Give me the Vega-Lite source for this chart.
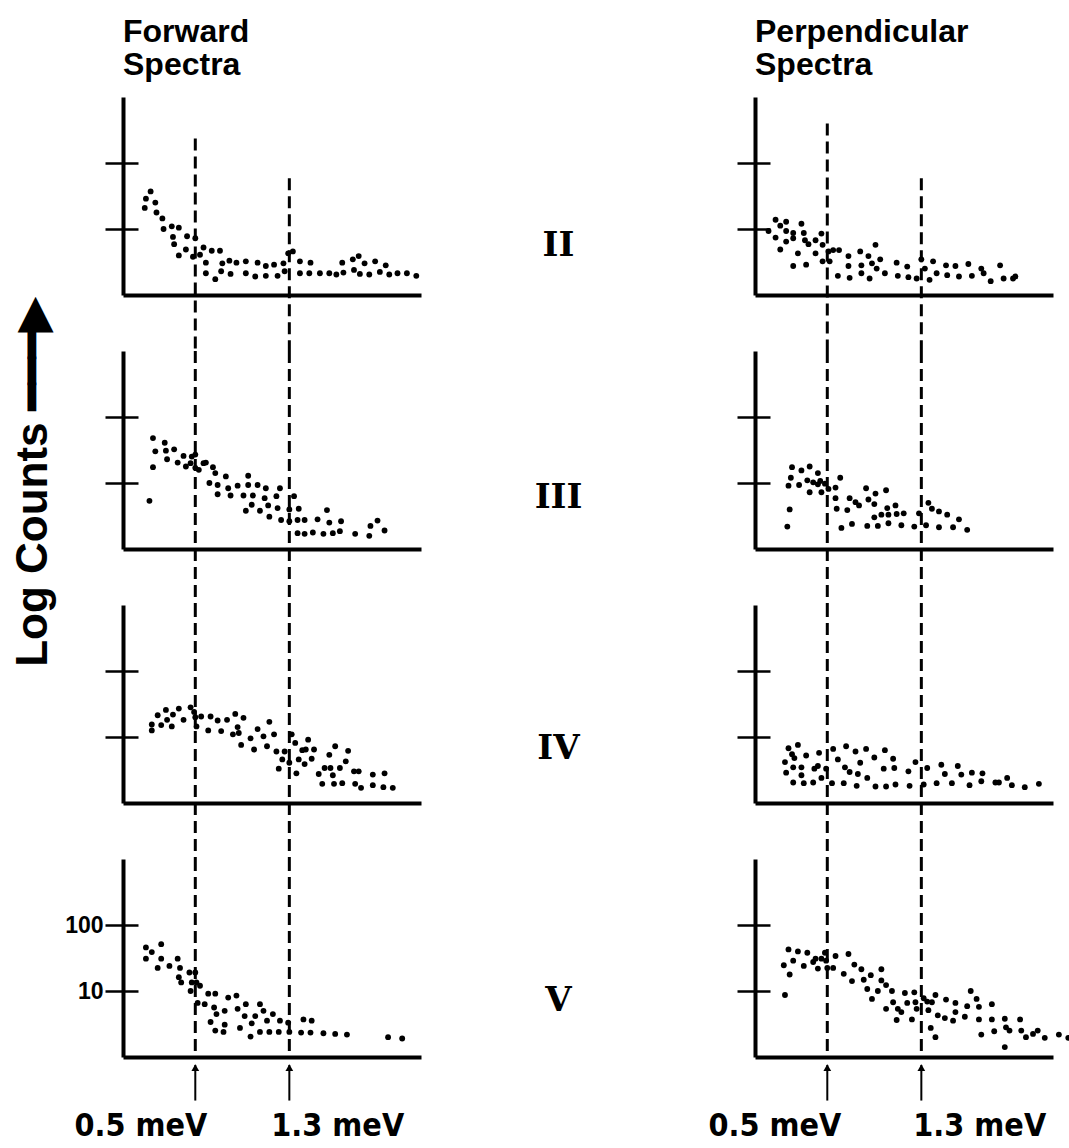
{
"$schema": "https://vega.github.io/schema/vega-lite/v6.json",
"background": "white",
"padding": {"left": 10, "top": 16, "right": 2, "bottom": 4},
"config": {"view": {"stroke": null}, "font": "Liberation Sans",
  "title": {"anchor": "start", "frame": "group", "font": "Liberation Sans", "fontSize": 32, "fontWeight": "bold", "lineHeight": 33, "offset": 15, "color": "black"}},
"datasets": {
"markers": [
{"d":"F","s":"II","E":0.5,"top":2.37},{"d":"F","s":"II","E":1.3,"top":1.77},
{"d":"P","s":"II","E":0.5,"top":2.6},{"d":"P","s":"II","E":1.3,"top":1.77},
{"d":"F","s":"III","E":0.5,"top":3},{"d":"F","s":"III","E":1.3,"top":3},
{"d":"P","s":"III","E":0.5,"top":3},{"d":"P","s":"III","E":1.3,"top":3},
{"d":"F","s":"IV","E":0.5,"top":3},{"d":"F","s":"IV","E":1.3,"top":3},
{"d":"P","s":"IV","E":0.5,"top":3},{"d":"P","s":"IV","E":1.3,"top":3},
{"d":"F","s":"V","E":0.5,"top":3,"label":"0.5 meV"},{"d":"F","s":"V","E":1.3,"top":3,"label":"1.3 meV"},
{"d":"P","s":"V","E":0.5,"top":3,"label":"0.5 meV"},{"d":"P","s":"V","E":1.3,"top":3,"label":"1.3 meV"}
],
"points": [
{"d":"F","s":"II","E":0.07,"L":1.32},{"d":"F","s":"II","E":0.08,"L":1.46},{"d":"F","s":"II","E":0.12,"L":1.57},{"d":"F","s":"II","E":0.16,"L":1.40},{"d":"F","s":"II","E":0.17,"L":1.25},{"d":"F","s":"II","E":0.22,"L":1.16},{"d":"F","s":"II","E":0.23,"L":1.00},{"d":"F","s":"II","E":0.30,"L":1.04},{"d":"F","s":"II","E":0.36,"L":1.02},{"d":"F","s":"II","E":0.31,"L":0.88},{"d":"F","s":"II","E":0.32,"L":0.77},{"d":"F","s":"II","E":0.36,"L":0.60},{"d":"F","s":"II","E":0.42,"L":0.69},{"d":"F","s":"II","E":0.43,"L":0.89},{"d":"F","s":"II","E":0.48,"L":0.58},{"d":"F","s":"II","E":0.50,"L":0.86},{"d":"F","s":"II","E":0.54,"L":0.61},{"d":"F","s":"II","E":0.57,"L":0.72},{"d":"F","s":"II","E":0.59,"L":0.49},{"d":"F","s":"II","E":0.59,"L":0.33},{"d":"F","s":"II","E":0.64,"L":0.67},{"d":"F","s":"II","E":0.67,"L":0.24},{"d":"F","s":"II","E":0.71,"L":0.67},{"d":"F","s":"II","E":0.72,"L":0.36},{"d":"F","s":"II","E":0.73,"L":0.48},{"d":"F","s":"II","E":0.79,"L":0.52},{"d":"F","s":"II","E":0.80,"L":0.32},{"d":"F","s":"II","E":0.85,"L":0.49},{"d":"F","s":"II","E":0.93,"L":0.51},{"d":"F","s":"II","E":0.93,"L":0.33},{"d":"F","s":"II","E":1.01,"L":0.28},{"d":"F","s":"II","E":1.03,"L":0.49},{"d":"F","s":"II","E":1.10,"L":0.44},{"d":"F","s":"II","E":1.10,"L":0.29},{"d":"F","s":"II","E":1.17,"L":0.46},{"d":"F","s":"II","E":1.20,"L":0.29},{"d":"F","s":"II","E":1.25,"L":0.48},{"d":"F","s":"II","E":1.26,"L":0.36},{"d":"F","s":"II","E":1.29,"L":0.63},{"d":"F","s":"II","E":1.33,"L":0.66},{"d":"F","s":"II","E":1.39,"L":0.51},{"d":"F","s":"II","E":1.39,"L":0.33},{"d":"F","s":"II","E":1.48,"L":0.49},{"d":"F","s":"II","E":1.47,"L":0.33},{"d":"F","s":"II","E":1.56,"L":0.33},{"d":"F","s":"II","E":1.64,"L":0.33},{"d":"F","s":"II","E":1.70,"L":0.31},{"d":"F","s":"II","E":1.75,"L":0.49},{"d":"F","s":"II","E":1.76,"L":0.34},{"d":"F","s":"II","E":1.84,"L":0.54},{"d":"F","s":"II","E":1.85,"L":0.38},{"d":"F","s":"II","E":1.89,"L":0.59},{"d":"F","s":"II","E":1.90,"L":0.32},{"d":"F","s":"II","E":1.94,"L":0.48},{"d":"F","s":"II","E":1.98,"L":0.31},{"d":"F","s":"II","E":2.03,"L":0.51},{"d":"F","s":"II","E":2.07,"L":0.35},{"d":"F","s":"II","E":2.12,"L":0.45},{"d":"F","s":"II","E":2.15,"L":0.31},{"d":"F","s":"II","E":2.22,"L":0.33},{"d":"F","s":"II","E":2.30,"L":0.33},{"d":"F","s":"II","E":2.38,"L":0.29},
{"d":"P","s":"II","E":0.00,"L":0.97},{"d":"P","s":"II","E":0.06,"L":1.14},{"d":"P","s":"II","E":0.06,"L":0.87},{"d":"P","s":"II","E":0.10,"L":0.69},{"d":"P","s":"II","E":0.10,"L":1.05},{"d":"P","s":"II","E":0.15,"L":1.11},{"d":"P","s":"II","E":0.15,"L":0.97},{"d":"P","s":"II","E":0.15,"L":0.81},{"d":"P","s":"II","E":0.21,"L":0.94},{"d":"P","s":"II","E":0.21,"L":0.86},{"d":"P","s":"II","E":0.21,"L":0.44},{"d":"P","s":"II","E":0.25,"L":0.63},{"d":"P","s":"II","E":0.28,"L":1.08},{"d":"P","s":"II","E":0.30,"L":0.94},{"d":"P","s":"II","E":0.31,"L":0.83},{"d":"P","s":"II","E":0.32,"L":0.46},{"d":"P","s":"II","E":0.34,"L":0.77},{"d":"P","s":"II","E":0.40,"L":0.83},{"d":"P","s":"II","E":0.40,"L":0.63},{"d":"P","s":"II","E":0.45,"L":0.93},{"d":"P","s":"II","E":0.46,"L":0.76},{"d":"P","s":"II","E":0.46,"L":0.51},{"d":"P","s":"II","E":0.51,"L":0.66},{"d":"P","s":"II","E":0.52,"L":0.51},{"d":"P","s":"II","E":0.55,"L":0.68},{"d":"P","s":"II","E":0.60,"L":0.68},{"d":"P","s":"II","E":0.59,"L":0.29},{"d":"P","s":"II","E":0.68,"L":0.59},{"d":"P","s":"II","E":0.68,"L":0.44},{"d":"P","s":"II","E":0.69,"L":0.26},{"d":"P","s":"II","E":0.78,"L":0.66},{"d":"P","s":"II","E":0.79,"L":0.45},{"d":"P","s":"II","E":0.79,"L":0.33},{"d":"P","s":"II","E":0.85,"L":0.59},{"d":"P","s":"II","E":0.86,"L":0.25},{"d":"P","s":"II","E":0.88,"L":0.48},{"d":"P","s":"II","E":0.91,"L":0.76},{"d":"P","s":"II","E":0.92,"L":0.40},{"d":"P","s":"II","E":0.95,"L":0.54},{"d":"P","s":"II","E":0.99,"L":0.33},{"d":"P","s":"II","E":1.09,"L":0.49},{"d":"P","s":"II","E":1.10,"L":0.29},{"d":"P","s":"II","E":1.18,"L":0.43},{"d":"P","s":"II","E":1.19,"L":0.27},{"d":"P","s":"II","E":1.26,"L":0.25},{"d":"P","s":"II","E":1.30,"L":0.54},{"d":"P","s":"II","E":1.33,"L":0.40},{"d":"P","s":"II","E":1.37,"L":0.23},{"d":"P","s":"II","E":1.40,"L":0.51},{"d":"P","s":"II","E":1.43,"L":0.33},{"d":"P","s":"II","E":1.51,"L":0.45},{"d":"P","s":"II","E":1.52,"L":0.30},{"d":"P","s":"II","E":1.59,"L":0.44},{"d":"P","s":"II","E":1.62,"L":0.28},{"d":"P","s":"II","E":1.70,"L":0.47},{"d":"P","s":"II","E":1.73,"L":0.29},{"d":"P","s":"II","E":1.81,"L":0.40},{"d":"P","s":"II","E":1.83,"L":0.33},{"d":"P","s":"II","E":1.89,"L":0.21},{"d":"P","s":"II","E":1.97,"L":0.45},{"d":"P","s":"II","E":2.00,"L":0.25},{"d":"P","s":"II","E":2.08,"L":0.25},{"d":"P","s":"II","E":2.10,"L":0.28},
{"d":"F","s":"III","E":0.11,"L":0.73},{"d":"F","s":"III","E":0.14,"L":1.24},{"d":"F","s":"III","E":0.14,"L":1.68},{"d":"F","s":"III","E":0.16,"L":1.48},{"d":"F","s":"III","E":0.24,"L":1.61},{"d":"F","s":"III","E":0.25,"L":1.49},{"d":"F","s":"III","E":0.26,"L":1.36},{"d":"F","s":"III","E":0.32,"L":1.51},{"d":"F","s":"III","E":0.35,"L":1.31},{"d":"F","s":"III","E":0.40,"L":1.41},{"d":"F","s":"III","E":0.42,"L":1.25},{"d":"F","s":"III","E":0.46,"L":1.30},{"d":"F","s":"III","E":0.47,"L":1.40},{"d":"F","s":"III","E":0.50,"L":1.23},{"d":"F","s":"III","E":0.50,"L":1.43},{"d":"F","s":"III","E":0.53,"L":1.20},{"d":"F","s":"III","E":0.57,"L":1.30},{"d":"F","s":"III","E":0.59,"L":1.31},{"d":"F","s":"III","E":0.62,"L":1.00},{"d":"F","s":"III","E":0.65,"L":1.24},{"d":"F","s":"III","E":0.67,"L":1.15},{"d":"F","s":"III","E":0.69,"L":0.97},{"d":"F","s":"III","E":0.69,"L":0.83},{"d":"F","s":"III","E":0.76,"L":1.10},{"d":"F","s":"III","E":0.78,"L":0.92},{"d":"F","s":"III","E":0.80,"L":0.81},{"d":"F","s":"III","E":0.86,"L":0.96},{"d":"F","s":"III","E":0.91,"L":0.81},{"d":"F","s":"III","E":0.93,"L":0.58},{"d":"F","s":"III","E":0.95,"L":1.11},{"d":"F","s":"III","E":0.95,"L":0.97},{"d":"F","s":"III","E":0.98,"L":0.67},{"d":"F","s":"III","E":0.99,"L":0.81},{"d":"F","s":"III","E":1.03,"L":0.97},{"d":"F","s":"III","E":1.05,"L":0.58},{"d":"F","s":"III","E":1.09,"L":0.77},{"d":"F","s":"III","E":1.10,"L":0.92},{"d":"F","s":"III","E":1.12,"L":0.66},{"d":"F","s":"III","E":1.13,"L":0.49},{"d":"F","s":"III","E":1.19,"L":0.80},{"d":"F","s":"III","E":1.20,"L":0.62},{"d":"F","s":"III","E":1.22,"L":0.92},{"d":"F","s":"III","E":1.23,"L":0.44},{"d":"F","s":"III","E":1.30,"L":0.60},{"d":"F","s":"III","E":1.30,"L":0.42},{"d":"F","s":"III","E":1.34,"L":0.80},{"d":"F","s":"III","E":1.37,"L":0.24},{"d":"F","s":"III","E":1.38,"L":0.61},{"d":"F","s":"III","E":1.37,"L":0.44},{"d":"F","s":"III","E":1.43,"L":0.44},{"d":"F","s":"III","E":1.43,"L":0.23},{"d":"F","s":"III","E":1.50,"L":0.25},{"d":"F","s":"III","E":1.54,"L":0.45},{"d":"F","s":"III","E":1.59,"L":0.23},{"d":"F","s":"III","E":1.62,"L":0.59},{"d":"F","s":"III","E":1.64,"L":0.40},{"d":"F","s":"III","E":1.67,"L":0.24},{"d":"F","s":"III","E":1.74,"L":0.42},{"d":"F","s":"III","E":1.73,"L":0.27},{"d":"F","s":"III","E":1.86,"L":0.23},{"d":"F","s":"III","E":1.98,"L":0.20},{"d":"F","s":"III","E":1.99,"L":0.35},{"d":"F","s":"III","E":2.05,"L":0.43},{"d":"F","s":"III","E":2.11,"L":0.28},
{"d":"P","s":"III","E":0.16,"L":0.34},{"d":"P","s":"III","E":0.18,"L":0.60},{"d":"P","s":"III","E":0.17,"L":0.96},{"d":"P","s":"III","E":0.19,"L":1.08},{"d":"P","s":"III","E":0.20,"L":1.24},{"d":"P","s":"III","E":0.26,"L":0.97},{"d":"P","s":"III","E":0.28,"L":1.19},{"d":"P","s":"III","E":0.33,"L":1.04},{"d":"P","s":"III","E":0.35,"L":0.86},{"d":"P","s":"III","E":0.35,"L":1.25},{"d":"P","s":"III","E":0.38,"L":1.01},{"d":"P","s":"III","E":0.42,"L":1.15},{"d":"P","s":"III","E":0.42,"L":0.98},{"d":"P","s":"III","E":0.45,"L":0.86},{"d":"P","s":"III","E":0.44,"L":1.03},{"d":"P","s":"III","E":0.48,"L":0.99},{"d":"P","s":"III","E":0.51,"L":0.91},{"d":"P","s":"III","E":0.57,"L":0.93},{"d":"P","s":"III","E":0.57,"L":0.77},{"d":"P","s":"III","E":0.58,"L":0.61},{"d":"P","s":"III","E":0.61,"L":1.08},{"d":"P","s":"III","E":0.62,"L":0.32},{"d":"P","s":"III","E":0.69,"L":0.77},{"d":"P","s":"III","E":0.67,"L":0.59},{"d":"P","s":"III","E":0.71,"L":0.38},{"d":"P","s":"III","E":0.74,"L":0.71},{"d":"P","s":"III","E":0.77,"L":0.66},{"d":"P","s":"III","E":0.83,"L":0.92},{"d":"P","s":"III","E":0.84,"L":0.35},{"d":"P","s":"III","E":0.85,"L":0.75},{"d":"P","s":"III","E":0.90,"L":0.68},{"d":"P","s":"III","E":0.90,"L":0.48},{"d":"P","s":"III","E":0.91,"L":0.84},{"d":"P","s":"III","E":0.93,"L":0.35},{"d":"P","s":"III","E":0.96,"L":0.52},{"d":"P","s":"III","E":1.00,"L":0.89},{"d":"P","s":"III","E":1.01,"L":0.62},{"d":"P","s":"III","E":1.02,"L":0.52},{"d":"P","s":"III","E":1.02,"L":0.39},{"d":"P","s":"III","E":1.08,"L":0.66},{"d":"P","s":"III","E":1.09,"L":0.53},{"d":"P","s":"III","E":1.13,"L":0.36},{"d":"P","s":"III","E":1.15,"L":0.54},{"d":"P","s":"III","E":1.24,"L":0.34},{"d":"P","s":"III","E":1.28,"L":0.54},{"d":"P","s":"III","E":1.34,"L":0.36},{"d":"P","s":"III","E":1.36,"L":0.70},{"d":"P","s":"III","E":1.39,"L":0.61},{"d":"P","s":"III","E":1.45,"L":0.57},{"d":"P","s":"III","E":1.45,"L":0.33},{"d":"P","s":"III","E":1.52,"L":0.52},{"d":"P","s":"III","E":1.57,"L":0.33},{"d":"P","s":"III","E":1.62,"L":0.45},{"d":"P","s":"III","E":1.69,"L":0.29},
{"d":"F","s":"IV","E":0.13,"L":1.10},{"d":"F","s":"IV","E":0.13,"L":1.19},{"d":"F","s":"IV","E":0.18,"L":1.33},{"d":"F","s":"IV","E":0.21,"L":1.18},{"d":"F","s":"IV","E":0.25,"L":1.41},{"d":"F","s":"IV","E":0.26,"L":1.26},{"d":"F","s":"IV","E":0.30,"L":1.16},{"d":"F","s":"IV","E":0.31,"L":1.34},{"d":"F","s":"IV","E":0.36,"L":1.43},{"d":"F","s":"IV","E":0.40,"L":1.26},{"d":"F","s":"IV","E":0.46,"L":1.45},{"d":"F","s":"IV","E":0.49,"L":1.38},{"d":"F","s":"IV","E":0.50,"L":1.30},{"d":"F","s":"IV","E":0.51,"L":1.16},{"d":"F","s":"IV","E":0.55,"L":1.31},{"d":"F","s":"IV","E":0.61,"L":1.10},{"d":"F","s":"IV","E":0.63,"L":1.31},{"d":"F","s":"IV","E":0.69,"L":1.25},{"d":"F","s":"IV","E":0.72,"L":1.09},{"d":"F","s":"IV","E":0.77,"L":1.26},{"d":"F","s":"IV","E":0.82,"L":1.04},{"d":"F","s":"IV","E":0.84,"L":1.35},{"d":"F","s":"IV","E":0.86,"L":1.15},{"d":"F","s":"IV","E":0.87,"L":1.06},{"d":"F","s":"IV","E":0.89,"L":0.88},{"d":"F","s":"IV","E":0.91,"L":1.29},{"d":"F","s":"IV","E":0.97,"L":0.98},{"d":"F","s":"IV","E":1.00,"L":0.81},{"d":"F","s":"IV","E":1.03,"L":1.12},{"d":"F","s":"IV","E":1.08,"L":1.01},{"d":"F","s":"IV","E":1.11,"L":0.86},{"d":"F","s":"IV","E":1.13,"L":1.23},{"d":"F","s":"IV","E":1.17,"L":1.04},{"d":"F","s":"IV","E":1.19,"L":0.78},{"d":"F","s":"IV","E":1.21,"L":0.52},{"d":"F","s":"IV","E":1.24,"L":0.66},{"d":"F","s":"IV","E":1.26,"L":0.78},{"d":"F","s":"IV","E":1.30,"L":0.61},{"d":"F","s":"IV","E":1.32,"L":1.04},{"d":"F","s":"IV","E":1.35,"L":0.91},{"d":"F","s":"IV","E":1.36,"L":0.45},{"d":"F","s":"IV","E":1.38,"L":0.66},{"d":"F","s":"IV","E":1.41,"L":0.80},{"d":"F","s":"IV","E":1.43,"L":0.59},{"d":"F","s":"IV","E":1.44,"L":0.81},{"d":"F","s":"IV","E":1.46,"L":0.96},{"d":"F","s":"IV","E":1.49,"L":0.67},{"d":"F","s":"IV","E":1.51,"L":0.81},{"d":"F","s":"IV","E":1.55,"L":0.44},{"d":"F","s":"IV","E":1.60,"L":0.53},{"d":"F","s":"IV","E":1.58,"L":0.29},{"d":"F","s":"IV","E":1.64,"L":0.73},{"d":"F","s":"IV","E":1.65,"L":0.53},{"d":"F","s":"IV","E":1.67,"L":0.42},{"d":"F","s":"IV","E":1.68,"L":0.29},{"d":"F","s":"IV","E":1.69,"L":0.86},{"d":"F","s":"IV","E":1.73,"L":0.53},{"d":"F","s":"IV","E":1.75,"L":0.30},{"d":"F","s":"IV","E":1.78,"L":0.63},{"d":"F","s":"IV","E":1.80,"L":0.79},{"d":"F","s":"IV","E":1.85,"L":0.48},{"d":"F","s":"IV","E":1.89,"L":0.48},{"d":"F","s":"IV","E":1.86,"L":0.29},{"d":"F","s":"IV","E":1.91,"L":0.23},{"d":"F","s":"IV","E":2.01,"L":0.43},{"d":"F","s":"IV","E":2.01,"L":0.27},{"d":"F","s":"IV","E":2.11,"L":0.45},{"d":"F","s":"IV","E":2.10,"L":0.24},{"d":"F","s":"IV","E":2.18,"L":0.23},
{"d":"P","s":"IV","E":0.17,"L":0.83},{"d":"P","s":"IV","E":0.20,"L":0.74},{"d":"P","s":"IV","E":0.22,"L":0.68},{"d":"P","s":"IV","E":0.14,"L":0.62},{"d":"P","s":"IV","E":0.25,"L":0.88},{"d":"P","s":"IV","E":0.15,"L":0.46},{"d":"P","s":"IV","E":0.21,"L":0.54},{"d":"P","s":"IV","E":0.28,"L":0.54},{"d":"P","s":"IV","E":0.28,"L":0.42},{"d":"P","s":"IV","E":0.21,"L":0.31},{"d":"P","s":"IV","E":0.30,"L":0.30},{"d":"P","s":"IV","E":0.32,"L":0.72},{"d":"P","s":"IV","E":0.38,"L":0.31},{"d":"P","s":"IV","E":0.39,"L":0.52},{"d":"P","s":"IV","E":0.42,"L":0.56},{"d":"P","s":"IV","E":0.43,"L":0.76},{"d":"P","s":"IV","E":0.45,"L":0.38},{"d":"P","s":"IV","E":0.49,"L":0.52},{"d":"P","s":"IV","E":0.54,"L":0.30},{"d":"P","s":"IV","E":0.55,"L":0.82},{"d":"P","s":"IV","E":0.59,"L":0.66},{"d":"P","s":"IV","E":0.64,"L":0.30},{"d":"P","s":"IV","E":0.65,"L":0.54},{"d":"P","s":"IV","E":0.66,"L":0.86},{"d":"P","s":"IV","E":0.69,"L":0.47},{"d":"P","s":"IV","E":0.74,"L":0.78},{"d":"P","s":"IV","E":0.76,"L":0.44},{"d":"P","s":"IV","E":0.75,"L":0.26},{"d":"P","s":"IV","E":0.78,"L":0.61},{"d":"P","s":"IV","E":0.83,"L":0.82},{"d":"P","s":"IV","E":0.84,"L":0.38},{"d":"P","s":"IV","E":0.90,"L":0.69},{"d":"P","s":"IV","E":0.91,"L":0.25},{"d":"P","s":"IV","E":0.98,"L":0.52},{"d":"P","s":"IV","E":0.99,"L":0.80},{"d":"P","s":"IV","E":1.00,"L":0.25},{"d":"P","s":"IV","E":1.06,"L":0.67},{"d":"P","s":"IV","E":1.07,"L":0.53},{"d":"P","s":"IV","E":1.08,"L":0.28},{"d":"P","s":"IV","E":1.19,"L":0.48},{"d":"P","s":"IV","E":1.20,"L":0.26},{"d":"P","s":"IV","E":1.25,"L":0.62},{"d":"P","s":"IV","E":1.32,"L":0.28},{"d":"P","s":"IV","E":1.35,"L":0.53},{"d":"P","s":"IV","E":1.43,"L":0.30},{"d":"P","s":"IV","E":1.47,"L":0.58},{"d":"P","s":"IV","E":1.50,"L":0.44},{"d":"P","s":"IV","E":1.56,"L":0.30},{"d":"P","s":"IV","E":1.61,"L":0.56},{"d":"P","s":"IV","E":1.64,"L":0.43},{"d":"P","s":"IV","E":1.71,"L":0.27},{"d":"P","s":"IV","E":1.73,"L":0.46},{"d":"P","s":"IV","E":1.81,"L":0.33},{"d":"P","s":"IV","E":1.82,"L":0.45},{"d":"P","s":"IV","E":1.93,"L":0.31},{"d":"P","s":"IV","E":1.96,"L":0.31},{"d":"P","s":"IV","E":2.03,"L":0.38},{"d":"P","s":"IV","E":2.07,"L":0.27},{"d":"P","s":"IV","E":2.18,"L":0.24},{"d":"P","s":"IV","E":2.30,"L":0.29},
{"d":"F","s":"V","E":0.08,"L":1.66},{"d":"F","s":"V","E":0.08,"L":1.49},{"d":"F","s":"V","E":0.13,"L":1.59},{"d":"F","s":"V","E":0.18,"L":1.35},{"d":"F","s":"V","E":0.21,"L":1.71},{"d":"F","s":"V","E":0.21,"L":1.49},{"d":"F","s":"V","E":0.28,"L":1.38},{"d":"F","s":"V","E":0.35,"L":1.49},{"d":"F","s":"V","E":0.37,"L":1.35},{"d":"F","s":"V","E":0.36,"L":1.21},{"d":"F","s":"V","E":0.38,"L":1.13},{"d":"F","s":"V","E":0.45,"L":1.28},{"d":"F","s":"V","E":0.46,"L":1.00},{"d":"F","s":"V","E":0.47,"L":1.13},{"d":"F","s":"V","E":0.50,"L":1.28},{"d":"F","s":"V","E":0.51,"L":1.13},{"d":"F","s":"V","E":0.54,"L":1.08},{"d":"F","s":"V","E":0.52,"L":0.82},{"d":"F","s":"V","E":0.58,"L":0.80},{"d":"F","s":"V","E":0.61,"L":0.96},{"d":"F","s":"V","E":0.63,"L":0.53},{"d":"F","s":"V","E":0.67,"L":0.96},{"d":"F","s":"V","E":0.66,"L":0.75},{"d":"F","s":"V","E":0.67,"L":0.40},{"d":"F","s":"V","E":0.68,"L":0.65},{"d":"F","s":"V","E":0.75,"L":0.70},{"d":"F","s":"V","E":0.75,"L":0.49},{"d":"F","s":"V","E":0.74,"L":0.38},{"d":"F","s":"V","E":0.78,"L":0.90},{"d":"F","s":"V","E":0.85,"L":0.93},{"d":"F","s":"V","E":0.86,"L":0.73},{"d":"F","s":"V","E":0.88,"L":0.44},{"d":"F","s":"V","E":0.92,"L":0.62},{"d":"F","s":"V","E":0.93,"L":0.80},{"d":"F","s":"V","E":0.97,"L":0.31},{"d":"F","s":"V","E":0.98,"L":0.51},{"d":"F","s":"V","E":1.01,"L":0.62},{"d":"F","s":"V","E":1.05,"L":0.80},{"d":"F","s":"V","E":1.05,"L":0.38},{"d":"F","s":"V","E":1.08,"L":0.70},{"d":"F","s":"V","E":1.11,"L":0.55},{"d":"F","s":"V","E":1.13,"L":0.38},{"d":"F","s":"V","E":1.16,"L":0.65},{"d":"F","s":"V","E":1.22,"L":0.55},{"d":"F","s":"V","E":1.21,"L":0.38},{"d":"F","s":"V","E":1.29,"L":0.52},{"d":"F","s":"V","E":1.30,"L":0.38},{"d":"F","s":"V","E":1.42,"L":0.57},{"d":"F","s":"V","E":1.49,"L":0.55},{"d":"F","s":"V","E":1.40,"L":0.37},{"d":"F","s":"V","E":1.48,"L":0.37},{"d":"F","s":"V","E":1.59,"L":0.36},{"d":"F","s":"V","E":1.69,"L":0.35},{"d":"F","s":"V","E":1.79,"L":0.34},{"d":"F","s":"V","E":2.14,"L":0.30},{"d":"F","s":"V","E":2.26,"L":0.28},
{"d":"P","s":"V","E":0.14,"L":0.94},{"d":"P","s":"V","E":0.13,"L":1.39},{"d":"P","s":"V","E":0.18,"L":1.25},{"d":"P","s":"V","E":0.17,"L":1.63},{"d":"P","s":"V","E":0.21,"L":1.46},{"d":"P","s":"V","E":0.25,"L":1.60},{"d":"P","s":"V","E":0.30,"L":1.38},{"d":"P","s":"V","E":0.33,"L":1.58},{"d":"P","s":"V","E":0.38,"L":1.44},{"d":"P","s":"V","E":0.40,"L":1.49},{"d":"P","s":"V","E":0.42,"L":1.34},{"d":"P","s":"V","E":0.45,"L":1.49},{"d":"P","s":"V","E":0.48,"L":1.58},{"d":"P","s":"V","E":0.49,"L":1.46},{"d":"P","s":"V","E":0.50,"L":1.35},{"d":"P","s":"V","E":0.55,"L":1.35},{"d":"P","s":"V","E":0.57,"L":1.53},{"d":"P","s":"V","E":0.64,"L":1.26},{"d":"P","s":"V","E":0.68,"L":1.56},{"d":"P","s":"V","E":0.71,"L":1.15},{"d":"P","s":"V","E":0.73,"L":1.40},{"d":"P","s":"V","E":0.79,"L":1.33},{"d":"P","s":"V","E":0.81,"L":1.17},{"d":"P","s":"V","E":0.84,"L":1.03},{"d":"P","s":"V","E":0.87,"L":1.24},{"d":"P","s":"V","E":0.88,"L":0.88},{"d":"P","s":"V","E":0.93,"L":1.00},{"d":"P","s":"V","E":0.96,"L":1.33},{"d":"P","s":"V","E":0.96,"L":1.16},{"d":"P","s":"V","E":1.00,"L":1.09},{"d":"P","s":"V","E":1.00,"L":0.73},{"d":"P","s":"V","E":1.05,"L":1.00},{"d":"P","s":"V","E":1.06,"L":0.83},{"d":"P","s":"V","E":1.09,"L":0.56},{"d":"P","s":"V","E":1.10,"L":0.73},{"d":"P","s":"V","E":1.13,"L":0.68},{"d":"P","s":"V","E":1.16,"L":0.97},{"d":"P","s":"V","E":1.18,"L":0.82},{"d":"P","s":"V","E":1.22,"L":0.57},{"d":"P","s":"V","E":1.24,"L":0.98},{"d":"P","s":"V","E":1.25,"L":0.83},{"d":"P","s":"V","E":1.26,"L":0.73},{"d":"P","s":"V","E":1.32,"L":0.89},{"d":"P","s":"V","E":1.35,"L":0.84},{"d":"P","s":"V","E":1.36,"L":0.71},{"d":"P","s":"V","E":1.38,"L":0.44},{"d":"P","s":"V","E":1.39,"L":0.83},{"d":"P","s":"V","E":1.42,"L":0.94},{"d":"P","s":"V","E":1.42,"L":0.30},{"d":"P","s":"V","E":1.44,"L":0.63},{"d":"P","s":"V","E":1.50,"L":0.59},{"d":"P","s":"V","E":1.51,"L":0.87},{"d":"P","s":"V","E":1.57,"L":0.55},{"d":"P","s":"V","E":1.59,"L":0.68},{"d":"P","s":"V","E":1.59,"L":0.82},{"d":"P","s":"V","E":1.67,"L":0.61},{"d":"P","s":"V","E":1.69,"L":0.77},{"d":"P","s":"V","E":1.72,"L":1.00},{"d":"P","s":"V","E":1.77,"L":0.88},{"d":"P","s":"V","E":1.79,"L":0.76},{"d":"P","s":"V","E":1.79,"L":0.57},{"d":"P","s":"V","E":1.81,"L":0.34},{"d":"P","s":"V","E":1.90,"L":0.80},{"d":"P","s":"V","E":1.90,"L":0.57},{"d":"P","s":"V","E":1.92,"L":0.39},{"d":"P","s":"V","E":2.01,"L":0.58},{"d":"P","s":"V","E":2.02,"L":0.45},{"d":"P","s":"V","E":2.01,"L":0.15},{"d":"P","s":"V","E":2.05,"L":0.40},{"d":"P","s":"V","E":2.14,"L":0.57},{"d":"P","s":"V","E":2.15,"L":0.40},{"d":"P","s":"V","E":2.19,"L":0.30},{"d":"P","s":"V","E":2.25,"L":0.35},{"d":"P","s":"V","E":2.29,"L":0.40},{"d":"P","s":"V","E":2.35,"L":0.29},{"d":"P","s":"V","E":2.47,"L":0.34},{"d":"P","s":"V","E":2.55,"L":0.29}
]
},
"columns": 2,
"spacing": {"row": 56, "column": 334},
"bounds": "flush",
"concat": [
{"title": {"text": ["Forward", "Spectra"]}, "width": 298, "height": 198, "layer": [
 {"data": {"name": "markers"}, "transform": [{"filter": "datum.d==='F'&&datum.s==='II'"}],
  "mark": {"type": "rule", "strokeDash": [12, 6], "strokeWidth": 3, "color": "black"},
  "encoding": {"x": {"field": "E", "type": "quantitative", "scale": {"domain": [-0.115, 2.42], "nice": false, "zero": false}, "axis": {"domainWidth": 4, "domainColor": "black", "ticks": false, "labels": false, "grid": false, "title": null}},
   "y": {"field": "top", "type": "quantitative", "scale": {"domain": [0, 3], "nice": false, "zero": false}, "axis": {"values": [1, 2], "domainWidth": 4, "domainColor": "black", "tickSize": 18, "tickWidth": 2.5, "tickColor": "black", "grid": true, "gridDash": [15, 3000], "gridWidth": 2.5, "gridColor": "black", "gridOpacity": 1, "labels": false, "title": null}},
   "y2": {"datum": -0.85}}},
 {"data": {"name": "points"}, "transform": [{"filter": "datum.d==='F'&&datum.s==='II'"}],
  "mark": {"type": "circle", "size": 34, "color": "black", "opacity": 1},
  "encoding": {"x": {"field": "E", "type": "quantitative"}, "y": {"field": "L", "type": "quantitative"}}}
]},
{"title": {"text": ["Perpendicular", "Spectra"]}, "width": 298, "height": 198, "layer": [
 {"data": {"name": "markers"}, "transform": [{"filter": "datum.d==='P'&&datum.s==='II'"}],
  "mark": {"type": "rule", "strokeDash": [12, 6], "strokeWidth": 3, "color": "black"},
  "encoding": {"x": {"field": "E", "type": "quantitative", "scale": {"domain": [-0.115, 2.42], "nice": false, "zero": false}, "axis": {"domainWidth": 4, "domainColor": "black", "ticks": false, "labels": false, "grid": false, "title": null}},
   "y": {"field": "top", "type": "quantitative", "scale": {"domain": [0, 3], "nice": false, "zero": false}, "axis": {"values": [1, 2], "domainWidth": 4, "domainColor": "black", "tickSize": 18, "tickWidth": 2.5, "tickColor": "black", "grid": true, "gridDash": [15, 3000], "gridWidth": 2.5, "gridColor": "black", "gridOpacity": 1, "labels": false, "title": "II", "titleAngle": 0, "titleX": -197, "titleY": 148, "titleAlign": "center", "titleBaseline": "middle", "titleFont": "DejaVu Serif", "titleFontWeight": "bold", "titleFontSize": 34, "titleColor": "black"}},
   "y2": {"datum": -0.85}}},
 {"data": {"name": "points"}, "transform": [{"filter": "datum.d==='P'&&datum.s==='II'"}],
  "mark": {"type": "circle", "size": 34, "color": "black", "opacity": 1},
  "encoding": {"x": {"field": "E", "type": "quantitative"}, "y": {"field": "L", "type": "quantitative"}}}
]},
{"width": 298, "height": 198, "layer": [
 {"data": {"name": "markers"}, "transform": [{"filter": "datum.d==='F'&&datum.s==='III'"}],
  "mark": {"type": "rule", "strokeDash": [12, 6], "strokeWidth": 3, "color": "black"},
  "encoding": {"x": {"field": "E", "type": "quantitative", "scale": {"domain": [-0.115, 2.42], "nice": false, "zero": false}, "axis": {"domainWidth": 4, "domainColor": "black", "ticks": false, "labels": false, "grid": false, "title": null}},
   "y": {"field": "top", "type": "quantitative", "scale": {"domain": [0, 3], "nice": false, "zero": false}, "axis": {"values": [1, 2], "domainWidth": 4, "domainColor": "black", "tickSize": 18, "tickWidth": 2.5, "tickColor": "black", "grid": true, "gridDash": [15, 3000], "gridWidth": 2.5, "gridColor": "black", "gridOpacity": 1, "labels": false, "title": "Log   Counts ━━━▶", "titleAngle": 270, "titleX": -90, "titleY": 131, "titleAlign": "center", "titleBaseline": "middle", "titleFont": "Liberation Sans", "titleFontWeight": "bold", "titleFontSize": 44, "titleColor": "black"}},
   "y2": {"datum": -0.85}}},
 {"data": {"name": "points"}, "transform": [{"filter": "datum.d==='F'&&datum.s==='III'"}],
  "mark": {"type": "circle", "size": 34, "color": "black", "opacity": 1},
  "encoding": {"x": {"field": "E", "type": "quantitative"}, "y": {"field": "L", "type": "quantitative"}}}
]},
{"width": 298, "height": 198, "layer": [
 {"data": {"name": "markers"}, "transform": [{"filter": "datum.d==='P'&&datum.s==='III'"}],
  "mark": {"type": "rule", "strokeDash": [12, 6], "strokeWidth": 3, "color": "black"},
  "encoding": {"x": {"field": "E", "type": "quantitative", "scale": {"domain": [-0.115, 2.42], "nice": false, "zero": false}, "axis": {"domainWidth": 4, "domainColor": "black", "ticks": false, "labels": false, "grid": false, "title": null}},
   "y": {"field": "top", "type": "quantitative", "scale": {"domain": [0, 3], "nice": false, "zero": false}, "axis": {"values": [1, 2], "domainWidth": 4, "domainColor": "black", "tickSize": 18, "tickWidth": 2.5, "tickColor": "black", "grid": true, "gridDash": [15, 3000], "gridWidth": 2.5, "gridColor": "black", "gridOpacity": 1, "labels": false, "title": "III", "titleAngle": 0, "titleX": -197, "titleY": 146, "titleAlign": "center", "titleBaseline": "middle", "titleFont": "DejaVu Serif", "titleFontWeight": "bold", "titleFontSize": 34, "titleColor": "black"}},
   "y2": {"datum": -0.85}}},
 {"data": {"name": "points"}, "transform": [{"filter": "datum.d==='P'&&datum.s==='III'"}],
  "mark": {"type": "circle", "size": 34, "color": "black", "opacity": 1},
  "encoding": {"x": {"field": "E", "type": "quantitative"}, "y": {"field": "L", "type": "quantitative"}}}
]},
{"width": 298, "height": 198, "layer": [
 {"data": {"name": "markers"}, "transform": [{"filter": "datum.d==='F'&&datum.s==='IV'"}],
  "mark": {"type": "rule", "strokeDash": [12, 6], "strokeWidth": 3, "color": "black"},
  "encoding": {"x": {"field": "E", "type": "quantitative", "scale": {"domain": [-0.115, 2.42], "nice": false, "zero": false}, "axis": {"domainWidth": 4, "domainColor": "black", "ticks": false, "labels": false, "grid": false, "title": null}},
   "y": {"field": "top", "type": "quantitative", "scale": {"domain": [0, 3], "nice": false, "zero": false}, "axis": {"values": [1, 2], "domainWidth": 4, "domainColor": "black", "tickSize": 18, "tickWidth": 2.5, "tickColor": "black", "grid": true, "gridDash": [15, 3000], "gridWidth": 2.5, "gridColor": "black", "gridOpacity": 1, "labels": false, "title": null}},
   "y2": {"datum": -0.85}}},
 {"data": {"name": "points"}, "transform": [{"filter": "datum.d==='F'&&datum.s==='IV'"}],
  "mark": {"type": "circle", "size": 34, "color": "black", "opacity": 1},
  "encoding": {"x": {"field": "E", "type": "quantitative"}, "y": {"field": "L", "type": "quantitative"}}}
]},
{"width": 298, "height": 198, "layer": [
 {"data": {"name": "markers"}, "transform": [{"filter": "datum.d==='P'&&datum.s==='IV'"}],
  "mark": {"type": "rule", "strokeDash": [12, 6], "strokeWidth": 3, "color": "black"},
  "encoding": {"x": {"field": "E", "type": "quantitative", "scale": {"domain": [-0.115, 2.42], "nice": false, "zero": false}, "axis": {"domainWidth": 4, "domainColor": "black", "ticks": false, "labels": false, "grid": false, "title": null}},
   "y": {"field": "top", "type": "quantitative", "scale": {"domain": [0, 3], "nice": false, "zero": false}, "axis": {"values": [1, 2], "domainWidth": 4, "domainColor": "black", "tickSize": 18, "tickWidth": 2.5, "tickColor": "black", "grid": true, "gridDash": [15, 3000], "gridWidth": 2.5, "gridColor": "black", "gridOpacity": 1, "labels": false, "title": "IV", "titleAngle": 0, "titleX": -197, "titleY": 143, "titleAlign": "center", "titleBaseline": "middle", "titleFont": "DejaVu Serif", "titleFontWeight": "bold", "titleFontSize": 34, "titleColor": "black"}},
   "y2": {"datum": -0.85}}},
 {"data": {"name": "points"}, "transform": [{"filter": "datum.d==='P'&&datum.s==='IV'"}],
  "mark": {"type": "circle", "size": 34, "color": "black", "opacity": 1},
  "encoding": {"x": {"field": "E", "type": "quantitative"}, "y": {"field": "L", "type": "quantitative"}}}
]},
{"width": 298, "height": 198, "layer": [
 {"data": {"name": "markers"}, "transform": [{"filter": "datum.d==='F'&&datum.s==='V'"}],
  "mark": {"type": "rule", "strokeDash": [12, 6], "strokeWidth": 3, "color": "black"},
  "encoding": {"x": {"field": "E", "type": "quantitative", "scale": {"domain": [-0.115, 2.42], "nice": false, "zero": false}, "axis": {"domainWidth": 4, "domainColor": "black", "ticks": false, "labels": false, "grid": false, "title": null}},
   "y": {"field": "top", "type": "quantitative", "scale": {"domain": [0, 3], "nice": false, "zero": false}, "axis": {"values": [1, 2], "domainWidth": 4, "domainColor": "black", "tickSize": 18, "tickWidth": 2.5, "tickColor": "black", "grid": true, "gridDash": [15, 3000], "gridWidth": 2.5, "gridColor": "black", "gridOpacity": 1, "labels": true, "labelExpr": "datum.value === 2 ? '100' : '10'", "labelFont": "Liberation Sans", "labelFontWeight": "bold", "labelFontSize": 23, "labelPadding": 2, "labelColor": "black", "title": null}},
   "y2": {"datum": 0}}},
 {"data": {"name": "points"}, "transform": [{"filter": "datum.d==='F'&&datum.s==='V'"}],
  "mark": {"type": "circle", "size": 34, "color": "black", "opacity": 1},
  "encoding": {"x": {"field": "E", "type": "quantitative"}, "y": {"field": "L", "type": "quantitative"}}},
 {"data": {"name": "markers"}, "transform": [{"filter": "datum.d==='F'&&datum.s==='V'"}],
  "mark": {"type": "rule", "strokeWidth": 2, "color": "black"},
  "encoding": {"x": {"field": "E", "type": "quantitative"}, "y": {"datum": -0.12}, "y2": {"datum": -0.66}}},
 {"data": {"name": "markers"}, "transform": [{"filter": "datum.d==='F'&&datum.s==='V'"}],
  "mark": {"type": "point", "shape": "triangle-up", "size": 60, "filled": true, "color": "black", "opacity": 1},
  "encoding": {"x": {"field": "E", "type": "quantitative"}, "y": {"datum": -0.16}}},
 {"data": {"name": "markers"}, "transform": [{"filter": "datum.d==='F'&&datum.s==='V'&&datum.E<1"}],
  "mark": {"type": "text", "font": "DejaVu Sans Condensed", "fontWeight": "bold", "fontSize": 32, "color": "black", "baseline": "middle", "align": "right", "dx": 12},
  "encoding": {"x": {"field": "E", "type": "quantitative"}, "y": {"datum": -1.04}, "text": {"field": "label"}}},
 {"data": {"name": "markers"}, "transform": [{"filter": "datum.d==='F'&&datum.s==='V'&&datum.E>1"}],
  "mark": {"type": "text", "font": "DejaVu Sans Condensed", "fontWeight": "bold", "fontSize": 32, "color": "black", "baseline": "middle", "align": "left", "dx": -18},
  "encoding": {"x": {"field": "E", "type": "quantitative"}, "y": {"datum": -1.04}, "text": {"field": "label"}}}
]},
{"width": 298, "height": 198, "layer": [
 {"data": {"name": "markers"}, "transform": [{"filter": "datum.d==='P'&&datum.s==='V'"}],
  "mark": {"type": "rule", "strokeDash": [12, 6], "strokeWidth": 3, "color": "black"},
  "encoding": {"x": {"field": "E", "type": "quantitative", "scale": {"domain": [-0.115, 2.42], "nice": false, "zero": false}, "axis": {"domainWidth": 4, "domainColor": "black", "ticks": false, "labels": false, "grid": false, "title": null}},
   "y": {"field": "top", "type": "quantitative", "scale": {"domain": [0, 3], "nice": false, "zero": false}, "axis": {"values": [1, 2], "domainWidth": 4, "domainColor": "black", "tickSize": 18, "tickWidth": 2.5, "tickColor": "black", "grid": true, "gridDash": [15, 3000], "gridWidth": 2.5, "gridColor": "black", "gridOpacity": 1, "labels": false, "title": "V", "titleAngle": 0, "titleX": -197, "titleY": 141, "titleAlign": "center", "titleBaseline": "middle", "titleFont": "DejaVu Serif", "titleFontWeight": "bold", "titleFontSize": 34, "titleColor": "black"}},
   "y2": {"datum": 0}}},
 {"data": {"name": "points"}, "transform": [{"filter": "datum.d==='P'&&datum.s==='V'"}],
  "mark": {"type": "circle", "size": 34, "color": "black", "opacity": 1},
  "encoding": {"x": {"field": "E", "type": "quantitative"}, "y": {"field": "L", "type": "quantitative"}}},
 {"data": {"name": "markers"}, "transform": [{"filter": "datum.d==='P'&&datum.s==='V'"}],
  "mark": {"type": "rule", "strokeWidth": 2, "color": "black"},
  "encoding": {"x": {"field": "E", "type": "quantitative"}, "y": {"datum": -0.12}, "y2": {"datum": -0.66}}},
 {"data": {"name": "markers"}, "transform": [{"filter": "datum.d==='P'&&datum.s==='V'"}],
  "mark": {"type": "point", "shape": "triangle-up", "size": 60, "filled": true, "color": "black", "opacity": 1},
  "encoding": {"x": {"field": "E", "type": "quantitative"}, "y": {"datum": -0.16}}},
 {"data": {"name": "markers"}, "transform": [{"filter": "datum.d==='P'&&datum.s==='V'&&datum.E<1"}],
  "mark": {"type": "text", "font": "DejaVu Sans Condensed", "fontWeight": "bold", "fontSize": 32, "color": "black", "baseline": "middle", "align": "right", "dx": 14},
  "encoding": {"x": {"field": "E", "type": "quantitative"}, "y": {"datum": -1.04}, "text": {"field": "label"}}},
 {"data": {"name": "markers"}, "transform": [{"filter": "datum.d==='P'&&datum.s==='V'&&datum.E>1"}],
  "mark": {"type": "text", "font": "DejaVu Sans Condensed", "fontWeight": "bold", "fontSize": 32, "color": "black", "baseline": "middle", "align": "left", "dx": -8},
  "encoding": {"x": {"field": "E", "type": "quantitative"}, "y": {"datum": -1.04}, "text": {"field": "label"}}}
]}
]
}
